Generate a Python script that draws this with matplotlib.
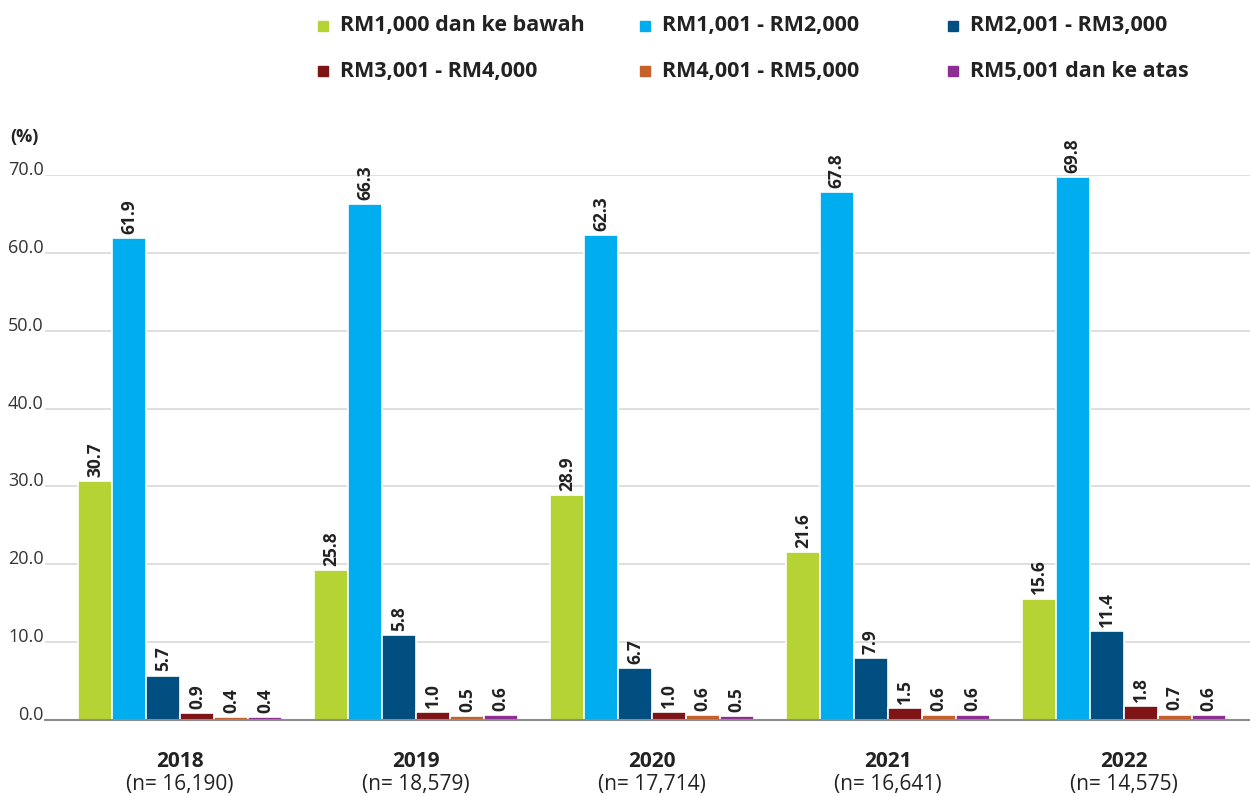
import matplotlib.pyplot as plt
import matplotlib.patches as mpatches
import numpy as np

plt.rcParams['font.family'] = ['Open Sans', 'DejaVu Sans']

years = ['2018', '2019', '2020', '2021', '2022']
sample_sizes = ['(n= 16,190)', '(n= 18,579)', '(n= 17,714)', '(n= 16,641)', '(n= 14,575)']
series_names = ['RM1,000 dan ke bawah', 'RM1,001 - RM2,000', 'RM2,001 - RM3,000',
                'RM3,001 - RM4,000', 'RM4,001 - RM5,000', 'RM5,001 dan ke atas']

# bar heights as drawn in the source (2019 bars do not match their printed labels)
below_1000 = [30.7, 19.3, 28.9, 21.6, 15.6]
rm1001_2000 = [61.9, 66.3, 62.3, 67.8, 69.8]
rm2001_3000 = [5.7, 10.9, 6.7, 7.9, 11.4]
rm3001_4000 = [0.9, 1.0, 1.0, 1.5, 1.8]
rm4001_5000 = [0.4, 0.5, 0.6, 0.6, 0.7]
above_5001 = [0.4, 0.6, 0.5, 0.6, 0.6]

# printed labels
lbl_below_1000 = ['30.7', '25.8', '28.9', '21.6', '15.6']
lbl_rm1001_2000 = ['61.9', '66.3', '62.3', '67.8', '69.8']
lbl_rm2001_3000 = ['5.7', '5.8', '6.7', '7.9', '11.4']
lbl_rm3001_4000 = ['0.9', '1.0', '1.0', '1.5', '1.8']
lbl_rm4001_5000 = ['0.4', '0.5', '0.6', '0.6', '0.7']
lbl_above_5001 = ['0.4', '0.6', '0.5', '0.6', '0.6']

series = [below_1000, rm1001_2000, rm2001_3000, rm3001_4000, rm4001_5000, above_5001]
labels = [lbl_below_1000, lbl_rm1001_2000, lbl_rm2001_3000, lbl_rm3001_4000,
          lbl_rm4001_5000, lbl_above_5001]
colors = ['#b5d334', '#00adef', '#004f80', '#7f1416', '#c8602a', '#8e2e92']

fig = plt.figure(figsize=(12.5, 7.96), dpi=100)
ax = fig.add_axes([0.036, 0.0955, 0.964, 0.6845])

x = np.arange(len(years))
w = 0.144
for i, (vals, lbls, c) in enumerate(zip(series, labels, colors)):
    pos = x + (i - 2.5) * w
    ax.bar(pos, vals, width=w, color=c, edgecolor='white', linewidth=1.2, zorder=3)
    for p, v, t in zip(pos, vals, lbls):
        ax.annotate(t, (p, v), xytext=(0, 3), textcoords='offset points',
                    rotation=90, ha='center', va='bottom', fontsize=12.5,
                    fontweight='bold', color='#222222', annotation_clip=False)

ax.set_xlim(-0.572, 4.535)
ax.set_ylim(0, 70)
ax.set_yticks(np.arange(0, 71, 10))
ax.set_yticklabels(['%.1f' % v for v in np.arange(0, 71, 10)], va='baseline',
                   fontsize=13, color='#333333')
ax.tick_params(axis='y', length=0, pad=1)
ax.set_xticks([])
ax.grid(axis='y', color='#d9d9d9', linewidth=1.2, zorder=0)
for s in ['top', 'right', 'left']:
    ax.spines[s].set_visible(False)
ax.spines['bottom'].set_color('#8c8c8c')
ax.spines['bottom'].set_linewidth(1.5)
ax.spines['bottom'].set_zorder(4)

fig.text(10 / 1250, 1 - 137 / 796, '(%)', fontsize=13, fontweight='bold',
         color='#222222', ha='left', va='center')

for xi, yr, n in zip(x, years, sample_sizes):
    ax.annotate(yr, (xi, 0), xycoords=('data', 'axes fraction'), xytext=(0, -22),
                textcoords='offset points', ha='center', va='top', fontsize=15,
                fontweight='bold', color='#222222')
    ax.annotate(n, (xi, 0), xycoords=('data', 'axes fraction'), xytext=(0, -39),
                textcoords='offset points', ha='center', va='top', fontsize=15,
                color='#222222')

# legend, laid out in 2 rows x 3 columns
col_x = [318, 640, 948]
row_y = [26, 71]
for i, (name, c) in enumerate(zip(series_names, colors)):
    cx = col_x[i % 3]
    cy = row_y[i // 3]
    fig.patches.append(mpatches.Rectangle((cx / 1250, 1 - (cy + 5) / 796), 10 / 1250, 10 / 796,
                                          transform=fig.transFigure, color=c))
    fig.text((cx + 22) / 1250, 1 - cy / 796, name, fontsize=15.5, fontweight='bold',
             color='#222222', ha='left', va='center')

fig.savefig('out.png', dpi=100)
